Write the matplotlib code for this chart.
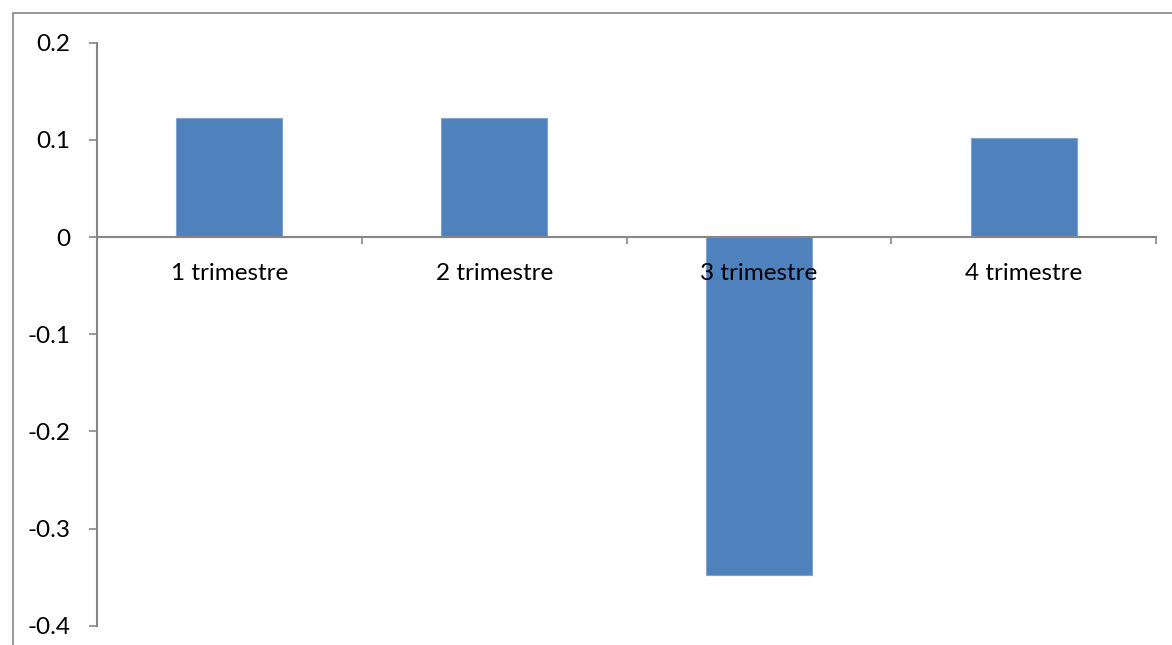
import matplotlib
matplotlib.use('Agg')

import matplotlib.pyplot as plt
from matplotlib.patches import Rectangle
import numpy as np

categories = ['1 trimestre', '2 trimestre', '3 trimestre', '4 trimestre']
values = [0.1228, 0.122, -0.348, 0.102]
y_ticks = [0.2, 0.1, 0, -0.1, -0.2, -0.3, -0.4]
y_tick_labels = ['0.2', '0.1', '0', '-0.1', '-0.2', '-0.3', '-0.4']

plt.rcParams['font.family'] = ['Lato', 'DejaVu Sans']
axis_grey = '#868686'

fig = plt.figure(figsize=(11.72, 6.45), dpi=100)
ax = fig.add_axes([97 / 1172, 1 - 625.7 / 645, (1156 - 97) / 1172, (625.7 - 42.7) / 645])

pos = np.arange(len(categories)) + 0.5
ax.bar(pos, values, width=0.4, color='#4F81BD', edgecolor='#7FA3D3', linewidth=0.8, zorder=1)

ax.set_xlim(0, len(categories))
ax.set_ylim(-0.4, 0.2)

for side in ['top', 'right']:
    ax.spines[side].set_visible(False)
ax.spines['bottom'].set_position(('data', 0))
for side in ['left', 'bottom']:
    ax.spines[side].set_color(axis_grey)
    ax.spines[side].set_linewidth(1.5)

ax.set_yticks(y_ticks)
ax.set_yticklabels(y_tick_labels)
ax.tick_params(axis='y', direction='out', length=6, width=1.2, color=axis_grey,
               pad=13, labelsize=17.5, labelcolor='black')

# category boundaries get tick marks, names sit at the centres
ax.set_xticks(np.arange(len(categories) + 1))
ax.set_xticklabels([''] * (len(categories) + 1))
ax.set_xticks(pos, minor=True)
ax.set_xticklabels(categories, minor=True)
ax.tick_params(axis='x', which='major', direction='out', length=5, width=1.2, color=axis_grey)
ax.tick_params(axis='x', which='minor', length=0, pad=18.5, labelsize=17.5, labelcolor='black')

# thin frame round the chart area
fig.patches.append(Rectangle((12.5 / 1172, -0.1), 1.2, 1 - 13.3 / 645 + 0.1,
                             transform=fig.transFigure, fill=False,
                             edgecolor=axis_grey, linewidth=1.2))

fig.savefig('out.png', dpi=100)
